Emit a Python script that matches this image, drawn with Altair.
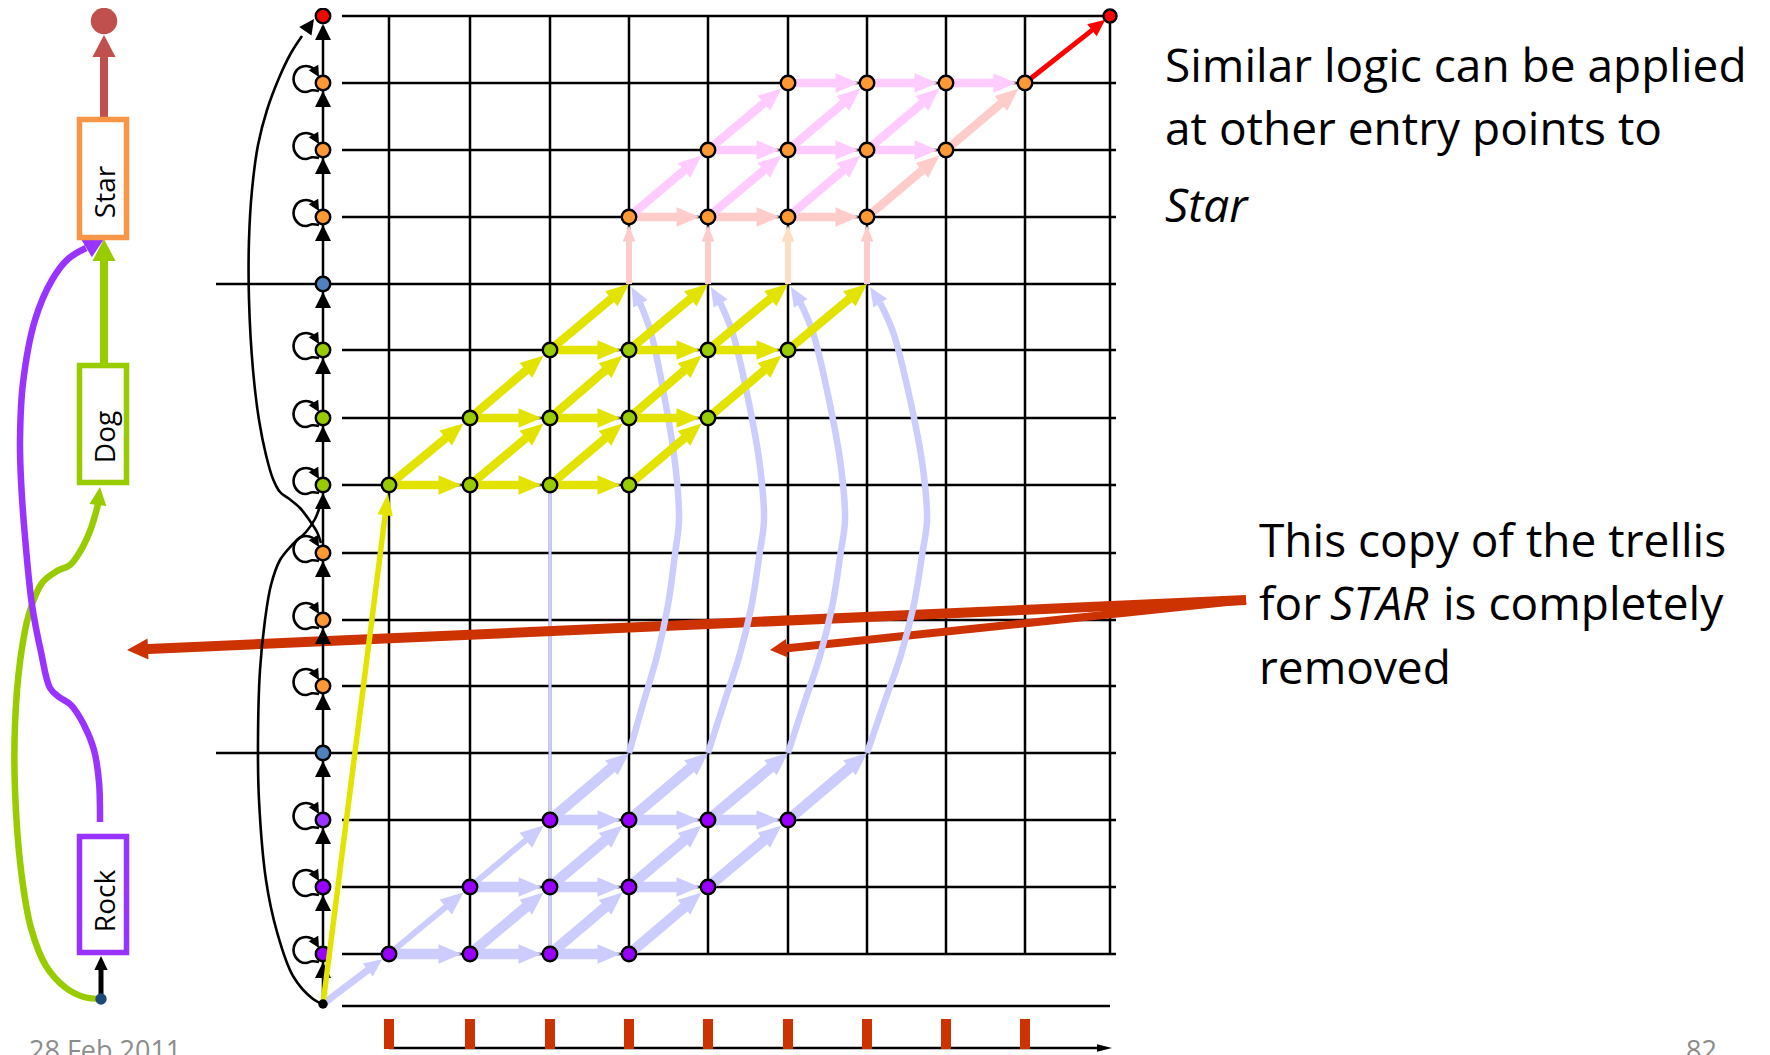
import math
import altair as alt
import pandas as pd

# ---------------- data: trellis geometry (reference pixel positions) ----------------
COL_X = [323, 389, 470, 550, 629, 708, 788, 867, 946, 1025, 1110]
ROW_Y = [16, 83, 150, 217, 284, 350, 418, 485, 553, 620, 686, 753, 820, 887, 954]
START = (323, 1004)
BOTTOM_LINE_Y = 1006
ROW_KIND = ["final", "star", "star", "star", "exit", "dog", "dog", "dog",
            "star", "star", "star", "exit", "rock", "rock", "rock"]
FILL = {"final": "#FF0000", "star": "#FF9933", "exit": "#4F81BD",
        "dog": "#99CC00", "rock": "#9900FF"}

DOG_NODES = {7: [1, 2, 3, 4], 6: [2, 3, 4, 5], 5: [3, 4, 5, 6]}
ROCK_NODES = {14: [1, 2, 3, 4], 13: [2, 3, 4, 5], 12: [3, 4, 5, 6]}
STAR_NODES = {3: [4, 5, 6, 7], 2: [5, 6, 7, 8], 1: [6, 7, 8, 9]}

YELLOW, LAV, PINK, SALMON, PEACH = "#E3E300", "#CCCCFF", "#FFCCFF", "#FFCCCC", "#FDDDC4"
STAR_H_COLOR = {3: SALMON, 2: PINK, 1: PINK}
STAR_D_COLOR = {(3, 4): PINK, (3, 5): PINK, (3, 6): PINK, (3, 7): SALMON,
                (2, 5): PINK, (2, 6): PINK, (2, 7): PINK, (2, 8): SALMON}
STAR_ENTRY = {4: SALMON, 5: SALMON, 6: PEACH, 7: SALMON}
ROCK_THIN = [(14, 1), (13, 2)]
LAV_CURVE_COLS = [4, 5, 6, 7]
LAV_CURVE_BULGE = [50, 56, 57, 60]
AXIS_TICK_COLS = [1, 2, 3, 4, 5, 6, 7, 8, 9]

# black curves next to the state column
CURVE_A = [(323, 1004), (313, 999), (293, 976), (277, 932), (266, 880), (259, 800),
           (258, 740), (260, 670), (265, 620), (271, 585), (280, 560), (293, 544),
           (306, 532), (315, 519), (321, 503)]
CURVE_B = [(321, 543), (317, 532), (310, 521), (300, 508), (288, 498), (280, 492),
           (273, 479), (266, 455), (259, 420), (253, 370), (249, 300), (249, 240),
           (252, 190), (258, 145), (267, 110), (279, 78), (291, 53), (302, 36)]
CURVE_B_TIP = (314, 19)
LOOP = [(-4, 8), (-10.8, 7.3), (-17, 9), (-23.3, 7.3), (-27.8, 2.5), (-29.5, -4),
        (-27.8, -10.5), (-23.3, -15.3), (-17, -17), (-10.8, -15.3), (-7.5, -12)]
LOOP_TIP = (-4, -6)
LAV_TEMPLATE = [(0.0, 753), (0.28, 704), (0.56, 656), (0.78, 605), (0.92, 554), (1.0, 520),
                (0.93, 467), (0.72, 400), (0.44, 333), (0.22, 303)]
LAV_TIP = (0.05, 287)

# left word graph
RED_DOT = (104, 21)
BOXES = [("Star", 79.5, 126.5, 119.5, 237.5, "#F79646", 192),
         ("Dog", 79.5, 126.5, 365.5, 482.5, "#99CC00", 437),
         ("Rock", 79.5, 126.5, 836.5, 952.5, "#9933FF", 901)]
GREEN_PATH = [(101, 999), (84, 997), (66, 988), (46, 966), (31, 928), (21, 870), (15, 790),
              (15, 725), (20, 662), (29, 614), (42, 583), (57, 571), (70, 565), (81, 550),
              (90, 531), (96, 512), (98, 504)]
GREEN_TIP = (100, 487)
PURPLE_PATH = [(100, 822), (99, 782), (94, 750), (84, 725), (71, 705), (59, 697), (50, 688),
               (41, 652), (32, 605), (25, 537), (21, 480), (20, 440), (23, 383), (35, 320),
               (52, 280), (68, 259), (86, 248)]
PURPLE_TIP = (106, 236)

TEXT1 = ["Similar logic can be applied", "at other entry points to"]
TEXT1_ITALIC = "Star"
TEXT2 = ["This copy of the trellis", "removed"]
TEXT2_MID = ["for ", "STAR", "is completely"]
FOOTER = ["28 Feb 2011", "82"]

# ---------------- helpers ----------------
XS = alt.Scale(domain=[8, 1762], nice=False, zero=False)
YS = alt.Scale(domain=[8, 1055], nice=False, zero=False, reverse=True)


def ex(f="x"):
    return alt.X(f"{f}:Q", scale=XS, axis=None)


def ey(f="y"):
    return alt.Y(f"{f}:Q", scale=YS, axis=None)


def rules(rows):
    return alt.Chart(pd.DataFrame(rows)).mark_rule(strokeCap="butt").encode(
        x=ex(), y=ey(), x2="x2:Q", y2="y2:Q",
        color=alt.Color("c:N", scale=None),
        strokeWidth=alt.StrokeWidth("w:Q", scale=None))


def heads(rows, ratio):
    path = f"M0,0L{-ratio},2L{ratio},2Z"
    return alt.Chart(pd.DataFrame(rows)).mark_point(
        shape=path, filled=True, opacity=1, strokeWidth=0).encode(
        x=ex(), y=ey(), angle=alt.Angle("a:Q", scale=None),
        size=alt.Size("s:Q", scale=None), color=alt.Color("c:N", scale=None))


def curves(rows, w):
    return alt.Chart(pd.DataFrame(rows)).mark_line(
        interpolate="catmull-rom", strokeCap="butt", strokeJoin="round", strokeWidth=w).encode(
        x=ex(), y=ey(), order="i:Q", detail="id:N",
        color=alt.Color("c:N", scale=None))


def head_row(tip, frm, color, hl):
    dx, dy = tip[0] - frm[0], tip[1] - frm[1]
    return dict(x=tip[0], y=tip[1], a=math.degrees(math.atan2(dx, -dy)) % 360,
                s=hl * hl, c=color)


class Arrows:
    def __init__(self):
        self.segs, self.h = [], {}

    def add(self, p0, p1, color, w, hl, ratio=0.85, inset=0.0):
        dx, dy = p1[0] - p0[0], p1[1] - p0[1]
        d = math.hypot(dx, dy)
        ux, uy = dx / d, dy / d
        tx, ty = p1[0] - ux * inset, p1[1] - uy * inset
        self.segs.append(dict(x=p0[0], y=p0[1], x2=tx - ux * hl * 0.75,
                              y2=ty - uy * hl * 0.75, c=color, w=w))
        self.h.setdefault(ratio, []).append(head_row((tx, ty), p0, color, hl))

    def layers(self):
        out = [rules(self.segs)] if self.segs else []
        for r, rows in self.h.items():
            out.append(heads(rows, r))
        return out


def P(c, r):
    return (COL_X[c], ROW_Y[r])


NODE_R = 8.5
layers = []

# ---------------- grid ----------------
grid = []
for r, kind in enumerate(ROW_KIND):
    x0 = 216 if kind == "exit" else 342
    x1 = 1110 if r == 0 else 1116
    grid.append(dict(x=x0, y=ROW_Y[r], x2=x1, y2=ROW_Y[r], c="black", w=2.5))
for c in range(1, len(COL_X)):
    grid.append(dict(x=COL_X[c], y=ROW_Y[0], x2=COL_X[c], y2=ROW_Y[-1], c="black", w=2.5))
grid.append(dict(x=342, y=BOTTOM_LINE_Y, x2=1110, y2=BOTTOM_LINE_Y, c="black", w=2.5))
grid.append(dict(x=COL_X[3], y=ROW_Y[7], x2=COL_X[3], y2=ROW_Y[14], c=LAV, w=3))
layers.append(rules(grid))

# bottom time axis
axis = Arrows()
axis.add((COL_X[1], 1048), (1112, 1048), "black", 2.5, 15, ratio=0.5)
layers += axis.layers()
ticks = [dict(x=COL_X[c], y=1019, x2=COL_X[c], y2=1049, c="#CC3300", w=10) for c in AXIS_TICK_COLS]
layers.append(rules(ticks))

# big red pointer arrows
ptr = Arrows()
ptr.add((1246, 600), (127, 650), "#CC3300", 10, 21, ratio=1.0)
ptr.add((1246, 600), (770, 650), "#CC3300", 8, 17, ratio=1.1)
layers += ptr.layers()

# ---------------- state column chain, loops, big curves ----------------
blk = [dict(x=START[0], y=START[1], x2=COL_X[0], y2=ROW_Y[0] + 10, c="black", w=2.5)]
layers.append(rules(blk))
cur = []
for i, (x, y) in enumerate(CURVE_A):
    cur.append(dict(id="A", i=i, x=x, y=y, c="black"))
for i, (x, y) in enumerate(CURVE_B):
    cur.append(dict(id="B", i=i, x=x, y=y, c="black"))
bheads = [head_row(CURVE_B_TIP, CURVE_B[-1], "black", 15)]
for r, kind in enumerate(ROW_KIND):
    bheads.append(head_row((COL_X[0], ROW_Y[r] + 8), (COL_X[0], ROW_Y[r] + 30), "black", 16))
    if kind in ("star", "dog", "rock"):
        for i, (dx, dy) in enumerate(LOOP):
            cur.append(dict(id=f"L{r}", i=i, x=COL_X[0] + dx, y=ROW_Y[r] + dy, c="black"))
        tip = (COL_X[0] + LOOP_TIP[0], ROW_Y[r] + LOOP_TIP[1])
        frm = (COL_X[0] + LOOP[-1][0], ROW_Y[r] + LOOP[-1][1])
        bheads.append(head_row(tip, frm, "black", 11))
layers.append(curves(cur, 2.6))
layers.append(heads(bheads, 1.0))

# ---------------- lavender curved arrows (Rock exit -> Dog exit row) ----------------
lc, lh = [], []
for k, (c, b) in enumerate(zip(LAV_CURVE_COLS, LAV_CURVE_BULGE)):
    x0 = COL_X[c]
    pts = [(x0 + f * b, y) for f, y in LAV_TEMPLATE]
    for i, (x, y) in enumerate(pts):
        lc.append(dict(id=f"C{k}", i=i, x=x, y=y, c=LAV))
    lh.append(head_row((x0 + LAV_TIP[0] * b, LAV_TIP[1]), pts[-1], LAV, 19))
layers.append(curves(lc, 6.5))
layers.append(heads(lh, 0.85))

# ---------------- trellis arrows ----------------
tr = Arrows()


def trellis(nodes, color_h, color_d, width):
    for r, cols in nodes.items():
        for c in cols:
            if c + 1 in cols:
                tr.add(P(c, r), P(c + 1, r), color_h(r, c), width(r, c, "h"), 23, inset=NODE_R)
            col = color_d(r, c)
            if col is None:
                continue
            inset = NODE_R if (c + 1) in nodes.get(r - 1, []) else 0
            tr.add(P(c, r), P(c + 1, r - 1), col, width(r, c, "d"), 23, inset=inset)


trellis(DOG_NODES, lambda r, c: YELLOW, lambda r, c: YELLOW, lambda r, c, t: 8.5)
trellis(ROCK_NODES, lambda r, c: LAV, lambda r, c: LAV,
        lambda r, c, t: 6 if (t == "d" and (r, c) in ROCK_THIN) else 10.5)
trellis(STAR_NODES, lambda r, c: STAR_H_COLOR[r],
        lambda r, c: STAR_D_COLOR.get((r, c)), lambda r, c, t: 8.5)
for c, col in STAR_ENTRY.items():
    tr.add(P(c, 4), P(c, 3), col, 6, 16, ratio=0.8, inset=NODE_R)
tr.add(P(9, 1), P(10, 0), "#FF0000", 5, 17, ratio=0.9, inset=6)
layers += tr.layers()

# ---------------- nodes ----------------
nodes = []
for r, kind in enumerate(ROW_KIND):
    nodes.append(dict(x=COL_X[0], y=ROW_Y[r], c="#9933FF" if r == 12 else FILL[kind], s=210))
for group, kind in ((DOG_NODES, "dog"), (ROCK_NODES, "rock"), (STAR_NODES, "star")):
    for r, cols in group.items():
        for c in cols:
            nodes.append(dict(x=COL_X[c], y=ROW_Y[r], c=FILL[kind], s=210))
nodes.append(dict(x=COL_X[10], y=ROW_Y[0], c="#FF0000", s=170))
layers.append(alt.Chart(pd.DataFrame(nodes)).mark_point(
    shape="circle", filled=True, opacity=1, stroke="black", strokeWidth=2.4).encode(
    x=ex(), y=ey(), fill=alt.Fill("c:N", scale=None), size=alt.Size("s:Q", scale=None)))

# start arrows
st = Arrows()
st.add(START, P(1, 14), LAV, 7, 18, ratio=0.9, inset=NODE_R)
st.add(START, P(1, 7), YELLOW, 5.5, 22, ratio=0.7, inset=NODE_R)
layers += st.layers()
layers.append(alt.Chart(pd.DataFrame([dict(x=START[0], y=START[1])])).mark_point(
    shape="circle", filled=True, opacity=1, color="black", size=90).encode(x=ex(), y=ey()))

# ---------------- left word graph ----------------
layers.append(alt.Chart(pd.DataFrame([dict(x=RED_DOT[0], y=RED_DOT[1])])).mark_point(
    shape="circle", filled=True, opacity=1, color="#C0504D", size=700).encode(x=ex(), y=ey()))
lg = Arrows()
lg.add((104, 117), (104, 35), "#C0504D", 8, 22, ratio=1.05)
lg.add((104, 363), (104, 239), "#99CC00", 8, 22, ratio=1.05)
lg.add((101, 997), (101, 956), "black", 5, 14, ratio=0.95)
layers += lg.layers()
wc = []
for i, (x, y) in enumerate(GREEN_PATH):
    wc.append(dict(id="g", i=i, x=x, y=y, c="#99CC00"))
for i, (x, y) in enumerate(PURPLE_PATH):
    wc.append(dict(id="p", i=i, x=x, y=y, c="#9933FF"))
layers.append(curves(wc, 6.5))
layers.append(heads([head_row(GREEN_TIP, GREEN_PATH[-1], "#99CC00", 18),
                     head_row(PURPLE_TIP, PURPLE_PATH[-1], "#9933FF", 23)], 0.95))
layers.append(alt.Chart(pd.DataFrame([dict(x=101, y=999)])).mark_point(
    shape="circle", filled=True, opacity=1, color="#1F497D", size=130).encode(x=ex(), y=ey()))
box_rows = [dict(t=b[0], x=b[1], x2=b[2], y=b[3], y2=b[4], c=b[5], ty=b[6]) for b in BOXES]
bdf = pd.DataFrame(box_rows)
layers.append(alt.Chart(bdf).mark_rect(fill="white", strokeWidth=5.5).encode(
    x=ex(), x2="x2:Q", y=ey(), y2="y2:Q", stroke=alt.Stroke("c:N", scale=None)))
layers.append(alt.Chart(bdf).mark_text(font="Open Sans", fontSize=28, angle=270, align="center",
                                       baseline="alphabetic", color="black").encode(
    x=alt.X("bx:Q", scale=XS, axis=None), y=alt.Y("ty:Q", scale=YS, axis=None), text="t:N"
).transform_calculate(bx="115"))


# ---------------- texts ----------------
def text_layer(rows, size, style="normal", color="black"):
    return alt.Chart(pd.DataFrame(rows)).mark_text(
        font="Open Sans", fontSize=size, fontStyle=style, color=color,
        align="left", baseline="alphabetic").encode(x=ex(), y=ey(), text="t:N")


layers.append(text_layer([dict(t=TEXT1[0], x=1165, y=82), dict(t=TEXT1[1], x=1165, y=145),
                          dict(t=TEXT2[0], x=1259, y=557), dict(t=TEXT2_MID[0], x=1259, y=620),
                          dict(t=TEXT2_MID[2], x=1443, y=620), dict(t=TEXT2[1], x=1259, y=684)], 46))
layers.append(text_layer([dict(t=TEXT1_ITALIC, x=1165, y=222),
                          dict(t=TEXT2_MID[1], x=1330, y=620)], 46, style="italic"))
layers.append(text_layer([dict(t=FOOTER[0], x=29, y=1060), dict(t=FOOTER[1], x=1686, y=1060)],
                         27, color="#8C8C8C"))

chart = alt.layer(*layers).properties(
    width=1754, height=1047, padding=0, background="white",
    autosize=alt.AutoSizeParams(type="none")
).configure_view(strokeWidth=0)

chart.save("out.html", embed_options={"renderer": "svg", "actions": False})
